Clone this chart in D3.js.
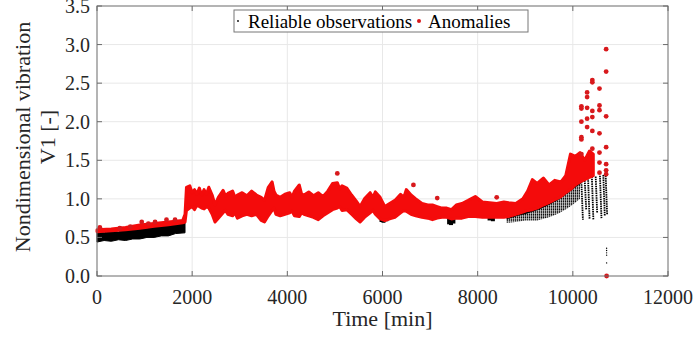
<!DOCTYPE html>
<html>
<head>
<meta charset="utf-8">
<script src="https://cdn.jsdelivr.net/npm/d3@7"></script>
<style>
  body { margin: 0; background: #fff; }
  text { font-family: "Liberation Serif", "DejaVu Serif", "Times New Roman", serif; }
</style>
</head>
<body>
<figure style="margin:0"></figure>
<script>
// ---- data ----
const xTicks = [0, 2000, 4000, 6000, 8000, 10000, 12000]
const yTicks = [0, 0.5, 1, 1.5, 2, 2.5, 3, 3.5]

// reliable observations: dense band [time, low, high]
const reliableBand = [
  [0, 0.44, 0.57], [150, 0.46, 0.56], [300, 0.45, 0.58], [450, 0.47, 0.57], [600, 0.46, 0.60],
  [750, 0.48, 0.60], [900, 0.48, 0.62], [1050, 0.50, 0.62], [1200, 0.50, 0.64],
  [1350, 0.52, 0.65], [1500, 0.52, 0.67], [1650, 0.55, 0.68], [1850, 0.56, 0.70]
]
const reliableLate = [
  [8600, 0.69, 0.76], [8800, 0.70, 0.80], [9000, 0.72, 0.83], [9250, 0.72, 0.88],
  [9500, 0.76, 0.95], [9700, 0.81, 1.02], [9900, 0.88, 1.11], [10050, 0.95, 1.18],
  [10150, 1.0, 1.22]
]
// small patches of black showing under the red
const reliablePatches = [
  [5980, 0.70, 0.75], [6020, 0.69, 0.75], [6080, 0.71, 0.75],
  [7400, 0.67, 0.75], [7440, 0.66, 0.75], [7490, 0.68, 0.75],
  [8250, 0.72, 0.76], [8320, 0.71, 0.76]
]
// vertical strands at the end [time, top, bottom]
const reliableStrands = [
  [10180, 1.22, 0.73], [10250, 1.24, 0.86], [10320, 1.27, 0.74], [10400, 1.29, 0.73],
  [10480, 1.29, 0.82], [10570, 1.30, 0.75], [10640, 1.31, 0.78], [10690, 1.30, 0.79]
]
const reliableLow = [[10710, 0.36], [10710, 0.33], [10710, 0.30], [10710, 0.27], [10710, 0.17]]

// anomalies: dense band [time, low, high]
const anomalyBand = [
  [0, 0.575, 0.60], [300, 0.585, 0.61], [600, 0.60, 0.63], [900, 0.62, 0.66],
  [1200, 0.645, 0.68], [1500, 0.665, 0.70], [1800, 0.69, 0.72], [1850, 0.70, 0.80],
  [1880, 0.85, 1.15], [1950, 0.88, 1.17], [2000, 0.90, 1.08], [2050, 0.86, 1.12],
  [2100, 0.92, 1.06], [2150, 0.90, 1.14], [2200, 0.88, 1.05], [2250, 0.87, 1.12],
  [2300, 0.90, 1.06], [2350, 0.88, 1.15], [2420, 0.80, 1.05], [2480, 0.70, 0.92],
  [2550, 0.75, 1.02], [2650, 0.82, 1.11], [2700, 0.85, 1.04], [2750, 0.80, 1.07],
  [2850, 0.78, 1.10], [2900, 0.82, 1.02], [2950, 0.75, 1.05], [3050, 0.78, 1.08],
  [3150, 0.80, 1.04], [3250, 0.78, 1.10], [3350, 0.80, 1.05], [3450, 0.72, 1.02],
  [3520, 0.70, 0.98], [3600, 0.78, 1.15], [3680, 0.85, 1.22], [3720, 0.88, 1.10],
  [3760, 0.80, 1.05], [3850, 0.78, 1.02], [3950, 0.80, 1.06], [4050, 0.82, 1.08],
  [4100, 0.84, 1.02], [4150, 0.78, 1.10], [4250, 0.77, 1.18], [4300, 0.82, 1.06],
  [4350, 0.80, 1.05], [4450, 0.78, 1.09], [4550, 0.76, 1.04], [4650, 0.73, 1.08],
  [4750, 0.78, 1.03], [4850, 0.82, 1.10], [4950, 0.86, 1.20], [5050, 0.88, 1.21],
  [5100, 0.90, 1.13], [5150, 0.85, 1.17], [5250, 0.86, 1.14], [5350, 0.80, 1.05],
  [5450, 0.74, 0.97], [5530, 0.70, 0.90], [5620, 0.76, 1.00], [5740, 0.82, 1.08],
  [5800, 0.85, 1.02], [5850, 0.80, 1.09], [5950, 0.74, 1.02], [6050, 0.72, 0.90],
  [6150, 0.74, 0.94], [6260, 0.76, 0.98], [6380, 0.82, 1.06], [6450, 0.85, 1.02],
  [6500, 0.84, 1.12], [6600, 0.80, 1.05], [6700, 0.78, 1.00], [6830, 0.76, 0.94],
  [6950, 0.75, 0.92], [7050, 0.73, 0.92], [7150, 0.75, 0.90], [7250, 0.76, 0.88],
  [7350, 0.76, 0.88], [7450, 0.74, 0.86], [7550, 0.75, 0.92], [7670, 0.75, 0.94],
  [7800, 0.77, 0.98], [7950, 0.77, 1.03], [8100, 0.76, 0.96], [8250, 0.76, 0.95],
  [8400, 0.76, 0.94], [8550, 0.76, 0.96], [8650, 0.77, 0.95], [8800, 0.80, 0.94],
  [8950, 0.83, 1.00], [9050, 0.85, 1.10], [9150, 0.86, 1.25], [9250, 0.88, 1.20],
  [9380, 0.92, 1.27], [9500, 0.95, 1.18], [9620, 0.99, 1.24], [9750, 1.03, 1.22],
  [9850, 1.08, 1.30], [9950, 1.12, 1.58], [10050, 1.18, 1.55], [10150, 1.22, 1.60],
  [10250, 1.25, 1.50], [10350, 1.28, 1.62], [10430, 1.30, 1.58]
]
// anomalies: isolated points [time, value]
const anomalyPoints = [
  [60, 0.63], [480, 0.62], [700, 0.64], [940, 0.70], [1080, 0.68], [1220, 0.70],
  [1460, 0.73], [1640, 0.73], [5050, 1.33], [6650, 1.18], [7150, 1.01], [8400, 1.02],
  [10180, 2.20], [10180, 2.17], [10180, 2.00], [10180, 1.80], [10180, 1.77], [10180, 1.58],
  [10300, 2.38], [10300, 2.32], [10300, 2.18], [10300, 2.04], [10300, 1.93],
  [10410, 2.54], [10410, 2.51], [10410, 2.14], [10410, 2.06], [10410, 1.88], [10410, 1.65],
  [10560, 2.43], [10560, 2.21], [10560, 2.15], [10560, 1.85], [10560, 1.60], [10560, 1.47], [10560, 1.34],
  [10700, 2.94], [10700, 2.65], [10700, 2.07], [10700, 1.67], [10700, 1.45], [10700, 1.37], [10700, 1.32],
  [10710, 0.0]
]

// ---- setup ----
const svgWidth = 694
const svgHeight = 339
const margin = { left: 97, right: 26, top: 6, bottom: 63 }
const width = svgWidth - margin.left - margin.right
const height = svgHeight - margin.top - margin.bottom

const red = '#f40b0b'
const dotRed = '#d8191c'
const axisColor = '#6b6b6b'
const serif = '"Liberation Serif", "DejaVu Serif", "Times New Roman", serif'

const root = d3.select('figure').append('svg')
  .attr('width', svgWidth)
  .attr('height', svgHeight)
  .attr('font-family', serif)
const svg = root.append('g')
  .attr('transform', `translate(${margin.left},${margin.top})`)

// speckle texture for the black region near the end
const defs = root.append('defs')
const pat = defs.append('pattern').attr('id', 'speck')
  .attr('patternUnits', 'userSpaceOnUse').attr('width', 2).attr('height', 1.6)
pat.append('rect').attr('width', 1.4).attr('height', 1.2).attr('fill', '#000')

const x = d3.scaleLinear().domain([0, 12000]).range([0, width])
const y = d3.scaleLinear().domain([0, 3.5]).range([height, 0])

// grid
svg.append('g').selectAll('line').data(xTicks.slice(1, -1)).join('line')
  .attr('x1', d => x(d)).attr('x2', d => x(d))
  .attr('y1', 0).attr('y2', height)
  .attr('stroke', '#e8e8e8')
svg.append('g').selectAll('line').data(yTicks.slice(1, -1)).join('line')
  .attr('x1', 0).attr('x2', width)
  .attr('y1', d => y(d)).attr('y2', d => y(d))
  .attr('stroke', '#e8e8e8')

// ---- marks ----
const band = d3.area()
  .x(d => x(d[0]))
  .y0(d => y(d[1]))
  .y1(d => y(d[2]))

svg.append('path').datum(reliableBand)
  .attr('d', band).attr('fill', '#000').attr('stroke', '#000').attr('stroke-width', 1)
svg.append('path').datum(reliableLate)
  .attr('d', band).attr('fill', 'url(#speck)')
svg.append('path').datum(reliableLate)
  .attr('d', d3.line().x(d => x(d[0])).y(d => y(d[2])))
  .attr('fill', 'none').attr('stroke', '#000').attr('stroke-width', 4)

svg.append('g').selectAll('line').data(reliableStrands).join('line')
  .attr('x1', d => x(d[0])).attr('x2', d => x(d[0]) + 1.5)
  .attr('y1', d => y(d[1])).attr('y2', d => y(d[2]))
  .attr('stroke', '#000').attr('stroke-width', 1.8)
  .attr('stroke-dasharray', '1.5,0.8')

svg.append('g').selectAll('rect').data(reliablePatches).join('rect')
  .attr('x', d => x(d[0]) - 2).attr('width', 4)
  .attr('y', d => y(d[2])).attr('height', d => y(d[1]) - y(d[2]))
  .attr('fill', '#000')

svg.append('g').selectAll('circle').data(reliableLow).join('circle')
  .attr('cx', d => x(d[0])).attr('cy', d => y(d[1]))
  .attr('r', 0.7).attr('fill', '#000')

svg.append('path').datum(anomalyBand)
  .attr('d', band).attr('fill', red)
  .attr('stroke', red).attr('stroke-width', 3).attr('stroke-linejoin', 'round')

svg.append('g').selectAll('circle').data(anomalyPoints).join('circle')
  .attr('cx', d => x(d[0])).attr('cy', d => y(d[1]))
  .attr('r', 2.4).attr('fill', dotRed)

// ---- axes (box with inward ticks) ----
const tickLen = 5
const axes = svg.append('g').attr('stroke', axisColor).attr('fill', 'none')
axes.append('rect').attr('width', width).attr('height', height)
xTicks.forEach(t => {
  axes.append('line').attr('x1', x(t)).attr('x2', x(t)).attr('y1', height).attr('y2', height - tickLen)
  axes.append('line').attr('x1', x(t)).attr('x2', x(t)).attr('y1', 0).attr('y2', tickLen)
})
yTicks.forEach(t => {
  axes.append('line').attr('x1', 0).attr('x2', tickLen).attr('y1', y(t)).attr('y2', y(t))
  axes.append('line').attr('x1', width).attr('x2', width - tickLen).attr('y1', y(t)).attr('y2', y(t))
})

svg.append('g').selectAll('text').data(xTicks).join('text')
  .attr('x', d => x(d)).attr('y', height + 28)
  .attr('text-anchor', 'middle')
  .style('font-size', '20px').style('fill', '#262626')
  .text(d => d)

svg.append('g').selectAll('text').data(yTicks).join('text')
  .attr('x', -7).attr('y', d => y(d) + 7)
  .attr('text-anchor', 'end')
  .style('font-size', '20px').style('fill', '#262626')
  .text(d => d3.format('.1f')(d))

svg.append('text')
  .attr('x', width / 2).attr('y', height + 50)
  .attr('text-anchor', 'middle')
  .style('font-size', '22px').style('fill', '#262626')
  .text('Time [min]')

const ylab = root.append('text')
  .attr('transform', `translate(0,${margin.top + height / 2 - 4}) rotate(-90)`)
  .attr('text-anchor', 'middle')
  .style('font-size', '22px').style('fill', '#262626')
ylab.append('tspan').attr('x', 0).attr('y', 30).text('Nondimensional vibration')
ylab.append('tspan').attr('x', 0).attr('y', 55).text('V1 [-]')

// ---- legend ----
const legend = root.append('g').attr('transform', 'translate(234,10)')
legend.append('rect')
  .attr('width', 294).attr('height', 22)
  .attr('fill', '#fff').attr('stroke', '#777')
legend.append('circle').attr('cx', 4).attr('cy', 11).attr('r', 0.9).attr('fill', '#000')
legend.append('text').attr('x', 14).attr('y', 17.5)
  .style('font-size', '19px').style('fill', '#000').text('Reliable observations')
legend.append('circle').attr('cx', 185).attr('cy', 11).attr('r', 2).attr('fill', dotRed)
legend.append('text').attr('x', 194).attr('y', 17.5)
  .style('font-size', '19px').style('fill', '#000').text('Anomalies')
</script>
</body>
</html>
